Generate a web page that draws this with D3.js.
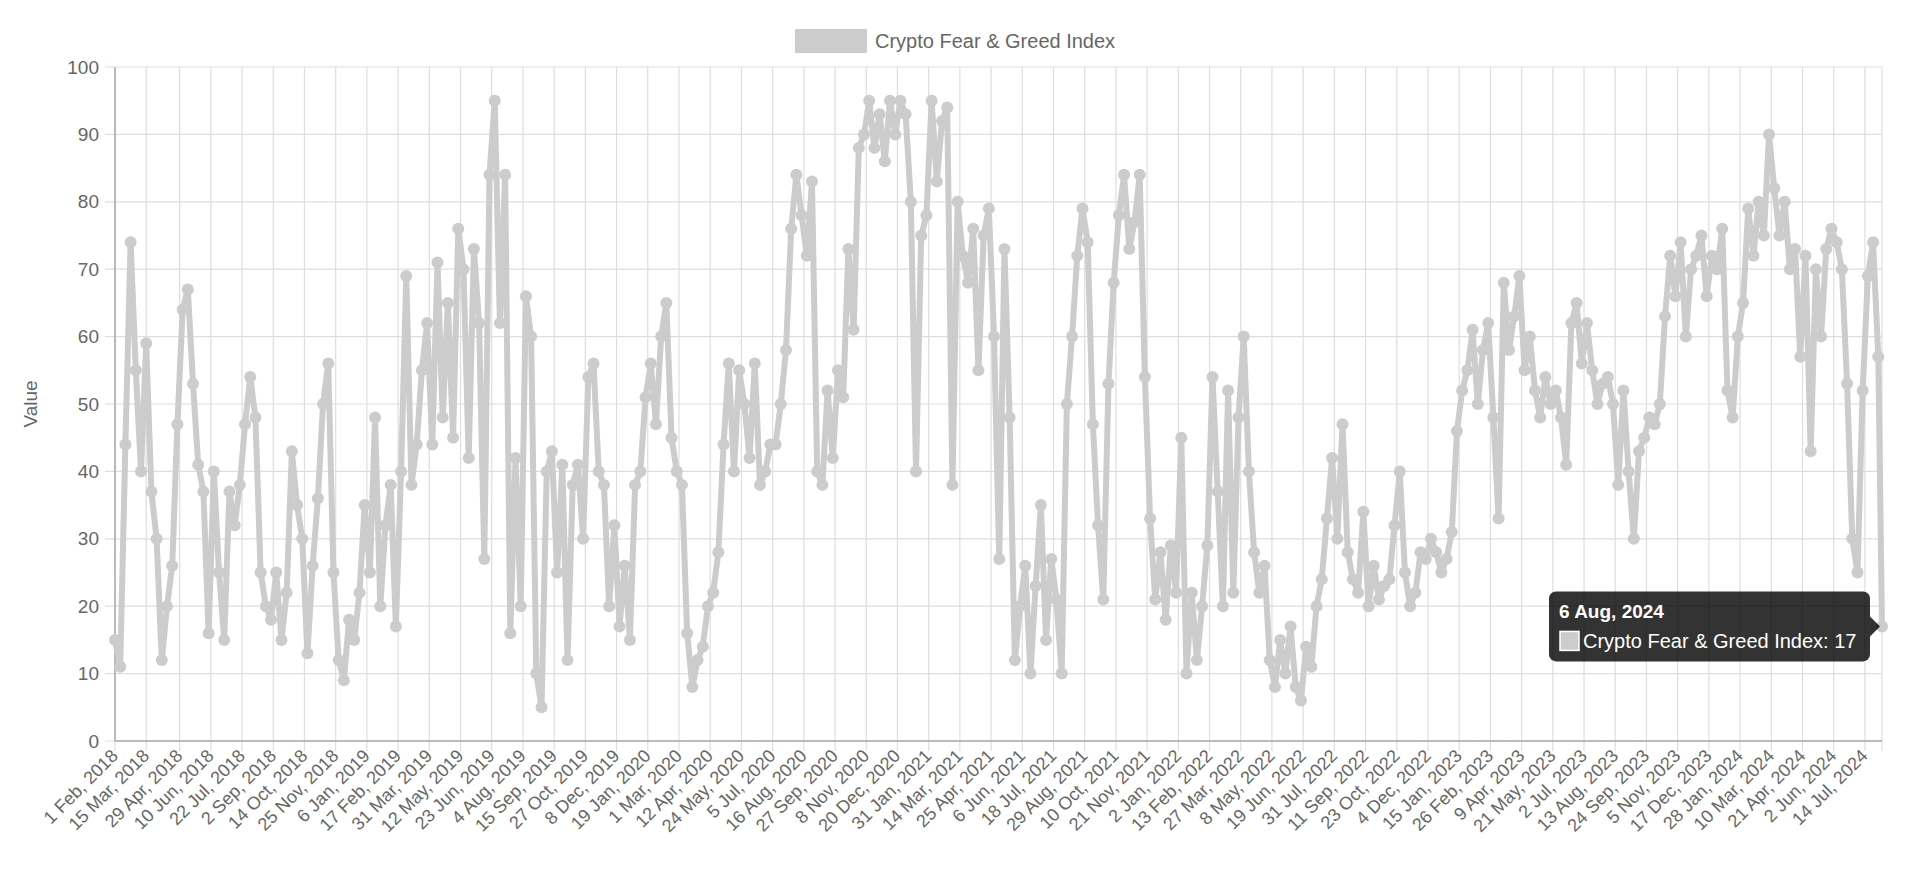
<!DOCTYPE html>
<html lang="en">
<head>
<meta charset="UTF-8">
<title>Crypto Fear & Greed Index</title>
<script src="https://d3js.org/d3.v7.min.js"></script>
<style>
  body { margin: 0; background: #fff; font-family: "Helvetica Neue", Arial, "Liberation Sans", sans-serif; }
</style>
</head>
<body>
<svg id="chart"></svg>
<script>
// weekly readings starting 1 Feb 2018 (one value per week)
var startDate = "2018-02-01";
var weeklyValues = [
  15, 11, 44, 74, 55, 40,   59, 37, 30, 12, 20, 26,   47, 64, 67, 53, 41, 37,
  16, 40, 25, 15, 37, 32,   38, 47, 54, 48, 25, 20,   18, 25, 15, 22, 43, 35,
  30, 13, 26, 36, 50, 56,   25, 12, 9, 18, 15, 22,    35, 25, 48, 20, 32, 38,
  17, 40, 69, 38, 44, 55,   62, 44, 71, 48, 65, 45,   76, 70, 42, 73, 62, 27,
  84, 95, 62, 84, 16, 42,   20, 66, 60, 10, 5, 40,    43, 25, 41, 12, 38, 41,
  30, 54, 56, 40, 38, 20,   32, 17, 26, 15, 38, 40,   51, 56, 47, 60, 65, 45,
  40, 38, 16, 8, 12, 14,    20, 22, 28, 44, 56, 40,   55, 50, 42, 56, 38, 40,
  44, 44, 50, 58, 76, 84,   78, 72, 83, 40, 38, 52,   42, 55, 51, 73, 61, 88,
  90, 95, 88, 93, 86, 95,   90, 95, 93, 80, 40, 75,   78, 95, 83, 92, 94, 38,
  80, 72, 68, 76, 55, 75,   79, 60, 27, 73, 48, 12,   20, 26, 10, 23, 35, 15,
  27, 21, 10, 50, 60, 72,   79, 74, 47, 32, 21, 53,   68, 78, 84, 73, 77, 84,
  54, 33, 21, 28, 18, 29,   22, 45, 10, 22, 12, 20,   29, 54, 37, 20, 52, 22,
  48, 60, 40, 28, 22, 26,   12, 8, 15, 10, 17, 8,     6, 14, 11, 20, 24, 33,
  42, 30, 47, 28, 24, 22,   34, 20, 26, 21, 23, 24,   32, 40, 25, 20, 22, 28,
  27, 30, 28, 25, 27, 31,   46, 52, 55, 61, 50, 58,   62, 48, 33, 68, 58, 63,
  69, 55, 60, 52, 48, 54,   50, 52, 48, 41, 62, 65,   56, 62, 55, 50, 53, 54,
  50, 38, 52, 40, 30, 43,   45, 48, 47, 50, 63, 72,   66, 74, 60, 70, 72, 75,
  66, 72, 70, 76, 52, 48,   60, 65, 79, 72, 80, 75,   90, 82, 75, 80, 70, 73,
  57, 72, 43, 70, 60, 73,   76, 74, 70, 53, 30, 25,   52, 69, 74, 57
];
var lastDate = "2024-08-06";
var lastValue = 17;

var tickLabels = [
  "1 Feb, 2018", "15 Mar, 2018", "29 Apr, 2018", "10 Jun, 2018", "22 Jul, 2018", "2 Sep, 2018",
  "14 Oct, 2018", "25 Nov, 2018", "6 Jan, 2019", "17 Feb, 2019", "31 Mar, 2019", "12 May, 2019",
  "23 Jun, 2019", "4 Aug, 2019", "15 Sep, 2019", "27 Oct, 2019", "8 Dec, 2019", "19 Jan, 2020",
  "1 Mar, 2020", "12 Apr, 2020", "24 May, 2020", "5 Jul, 2020", "16 Aug, 2020", "27 Sep, 2020",
  "8 Nov, 2020", "20 Dec, 2020", "31 Jan, 2021", "14 Mar, 2021", "25 Apr, 2021", "6 Jun, 2021",
  "18 Jul, 2021", "29 Aug, 2021", "10 Oct, 2021", "21 Nov, 2021", "2 Jan, 2022", "13 Feb, 2022",
  "27 Mar, 2022", "8 May, 2022", "19 Jun, 2022", "31 Jul, 2022", "11 Sep, 2022", "23 Oct, 2022",
  "4 Dec, 2022", "15 Jan, 2023", "26 Feb, 2023", "9 Apr, 2023", "21 May, 2023", "2 Jul, 2023",
  "13 Aug, 2023", "24 Sep, 2023", "5 Nov, 2023", "17 Dec, 2023", "28 Jan, 2024", "10 Mar, 2024",
  "21 Apr, 2024", "2 Jun, 2024", "14 Jul, 2024"
];
var yTicks = [0, 10, 20, 30, 40, 50, 60, 70, 80, 90, 100];
var seriesName = "Crypto Fear & Greed Index";

var W = 1920, H = 890;
var plotLeft = 115, plotRight = 1882, plotTop = 67, plotBottom = 741;
var grey = "#cccccc", gridColor = "#dedede", textColor = "#666";

var parse = d3.timeParse("%Y-%m-%d");
var parseLabel = d3.timeParse("%d %b, %Y");
var t0 = parse(startDate);
var data = weeklyValues.map(function(v, i) { return { date: d3.timeDay.offset(t0, i * 7), value: v }; });
data.push({ date: parse(lastDate), value: lastValue });

var svg = d3.select("#chart").attr("width", W).attr("height", H)
  .style("font-family", "'Helvetica Neue', Arial, 'Liberation Sans', sans-serif");

var x = d3.scaleTime().domain([t0, parse(lastDate)]).range([plotLeft, plotRight]);
var y = d3.scaleLinear().domain([0, 100]).range([plotBottom, plotTop]);
var tickDates = tickLabels.map(function(s) { return parseLabel(s); });

// grid
svg.append("g").selectAll("line").data(yTicks).join("line")
  .attr("x1", plotLeft - 10).attr("x2", plotRight).attr("y1", function(d) { return y(d); }).attr("y2", function(d) { return y(d); })
  .attr("stroke", gridColor).attr("stroke-width", 1.2);
svg.append("g").selectAll("line").data(tickDates.concat([parse(lastDate)])).join("line")
  .attr("x1", function(d) { return x(d); }).attr("x2", function(d) { return x(d); })
  .attr("y1", plotTop).attr("y2", plotBottom + 10)
  .attr("stroke", gridColor).attr("stroke-width", 1.2);

// axis lines
svg.append("line").attr("x1", plotLeft).attr("x2", plotLeft).attr("y1", plotTop).attr("y2", plotBottom).attr("stroke", "#aaa").attr("stroke-width", 1.5);
svg.append("line").attr("x1", plotLeft).attr("x2", plotRight).attr("y1", plotBottom).attr("y2", plotBottom).attr("stroke", "#aaa").attr("stroke-width", 1.5);

// y labels
svg.append("g").selectAll("text").data(yTicks).join("text")
  .attr("x", plotLeft - 16).attr("y", function(d) { return y(d); }).attr("dy", "0.35em")
  .attr("text-anchor", "end").attr("fill", textColor).attr("font-size", 19).text(function(d) { return d; });
svg.append("text").attr("transform", "translate(37," + ((plotTop + plotBottom) / 2) + ") rotate(-90)")
  .attr("text-anchor", "middle").attr("fill", textColor).attr("font-size", 19).text("Value");

// x labels
svg.append("g").selectAll("text").data(tickLabels).join("text")
  .attr("transform", function(d, i) { return "translate(" + (x(tickDates[i]) + 4) + "," + (plotBottom + 16) + ") rotate(-45)"; })
  .attr("text-anchor", "end").attr("fill", textColor).attr("font-size", 18).text(function(d) { return d; });

// series
var line = d3.line().x(function(d) { return x(d.date); }).y(function(d) { return y(d.value); });
svg.append("path").datum(data).attr("fill", "none").attr("stroke", grey).attr("stroke-width", 6)
  .attr("stroke-linejoin", "round").attr("d", line);
svg.append("g").selectAll("circle").data(data).join("circle")
  .attr("cx", function(d) { return x(d.date); }).attr("cy", function(d) { return y(d.value); })
  .attr("r", 6).attr("fill", grey);

// legend
svg.append("rect").attr("x", 795).attr("y", 29).attr("width", 72).attr("height", 24).attr("fill", grey);
svg.append("text").attr("x", 875).attr("y", 41).attr("dy", "0.35em").attr("fill", textColor).attr("font-size", 20).text(seriesName);

// tooltip on the last point
var last = data[data.length - 1];
var px = x(last.date), py = y(last.value);
var tw = 321, th = 70, tx = px - 12 - tw, ty = py - th / 2;
var tip = svg.append("g");
tip.append("rect").attr("x", tx).attr("y", ty).attr("width", tw).attr("height", th).attr("rx", 7).attr("fill", "rgba(0,0,0,0.8)");
tip.append("path").attr("d", "M" + (tx + tw) + "," + (py - 10) + "L" + (px - 2) + "," + py + "L" + (tx + tw) + "," + (py + 10) + "Z").attr("fill", "rgba(0,0,0,0.8)");
tip.append("text").attr("x", tx + 10).attr("y", ty + 20).attr("dy", "0.35em").attr("fill", "#fff")
  .attr("font-size", 19).attr("font-weight", "bold").text(d3.timeFormat("%-d %b, %Y")(last.date));
tip.append("rect").attr("x", tx + 11).attr("y", ty + 40).attr("width", 19).attr("height", 19).attr("fill", grey).attr("stroke", "#fff").attr("stroke-width", 1.5);
tip.append("text").attr("x", tx + 34).attr("y", ty + 50).attr("dy", "0.35em").attr("fill", "#fff")
  .attr("font-size", 20).text(seriesName + ": " + last.value);
</script>
</body>
</html>
